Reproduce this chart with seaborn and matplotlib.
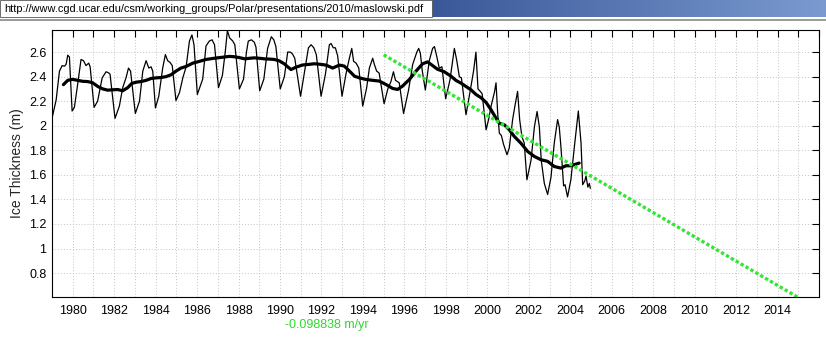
import numpy as np
import pandas as pd
import matplotlib
matplotlib.use("Agg")
import matplotlib.pyplot as plt
import seaborn as sns
from matplotlib.patches import Rectangle
from matplotlib.lines import Line2D

# ---------------- data ----------------
thin_year = [
    1979.00, 1979.20, 1979.36, 1979.49, 1979.60, 1979.68, 1979.76, 1979.84, 1979.97,
    1980.08, 1980.24, 1980.40, 1980.52, 1980.64, 1980.77, 1980.84, 1981.03,
    1981.20, 1981.42, 1981.61, 1981.74, 1981.80, 1982.04,
    1982.25, 1982.41, 1982.57, 1982.69, 1982.79, 1983.02,
    1983.22, 1983.38, 1983.54, 1983.67, 1983.78, 1983.86, 1983.99,
    1984.15, 1984.34, 1984.47, 1984.58, 1984.70, 1984.80, 1984.98,
    1985.15, 1985.31, 1985.47, 1985.63, 1985.75, 1985.85, 1986.01,
    1986.27, 1986.43, 1986.59, 1986.72, 1986.84, 1987.03,
    1987.22, 1987.36, 1987.46, 1987.57, 1987.72, 1987.82, 1988.04,
    1988.24, 1988.38, 1988.47, 1988.62, 1988.76, 1988.84, 1989.02,
    1989.22, 1989.40, 1989.58, 1989.70, 1989.80, 1990.01,
    1990.21, 1990.37, 1990.50, 1990.60, 1990.71, 1990.99,
    1991.19, 1991.37, 1991.50, 1991.63, 1991.75, 1991.98,
    1992.19, 1992.38, 1992.46, 1992.57, 1992.67, 1992.78, 1992.99,
    1993.18, 1993.31, 1993.46, 1993.55, 1993.67, 1993.80, 1993.99,
    1994.18, 1994.31, 1994.47, 1994.55, 1994.66, 1994.78, 1995.02,
    1995.20, 1995.35, 1995.47, 1995.57, 1995.75, 1995.96,
    1996.20, 1996.40, 1996.60, 1996.69, 1996.77, 1996.86, 1997.01,
    1997.20, 1997.36, 1997.45, 1997.56, 1997.68, 1997.81, 1997.99,
    1998.20, 1998.41, 1998.52, 1998.65, 1998.75, 1998.97,
    1999.16, 1999.34, 1999.45, 1999.55, 1999.66, 1999.75, 1999.94,
    2000.06, 2000.18, 2000.34, 2000.42, 2000.50, 2000.58, 2000.68, 2000.78, 2000.95,
    2001.06, 2001.22, 2001.33, 2001.46, 2001.56, 2001.67, 2001.78, 2001.91,
    2002.11, 2002.27, 2002.40, 2002.51, 2002.60, 2002.75, 2002.91,
    2003.07, 2003.23, 2003.39, 2003.47, 2003.55, 2003.68, 2003.75, 2003.87,
    2004.03, 2004.20, 2004.39, 2004.52, 2004.60, 2004.70, 2004.76, 2004.85, 2004.92, 2004.97,
]
thin_ice = [
    2.06, 2.21, 2.445, 2.49, 2.485, 2.50, 2.575, 2.56, 2.12,
    2.15, 2.34, 2.54, 2.53, 2.49, 2.51, 2.48, 2.15,
    2.20, 2.39, 2.44, 2.43, 2.42, 2.06,
    2.16, 2.31, 2.39, 2.47, 2.445, 2.10,
    2.20, 2.445, 2.53, 2.47, 2.48, 2.445, 2.145,
    2.24, 2.47, 2.58, 2.53, 2.515, 2.49, 2.205,
    2.27, 2.39, 2.48, 2.69, 2.74, 2.66, 2.255,
    2.38, 2.65, 2.69, 2.70, 2.66, 2.31,
    2.41, 2.605, 2.775, 2.715, 2.69, 2.66, 2.30,
    2.38, 2.60, 2.69, 2.70, 2.68, 2.64, 2.285,
    2.38, 2.63, 2.725, 2.70, 2.645, 2.30,
    2.40, 2.60, 2.60, 2.585, 2.55, 2.24,
    2.45, 2.635, 2.66, 2.635, 2.58, 2.24,
    2.42, 2.66, 2.67, 2.635, 2.635, 2.57, 2.24,
    2.42, 2.525, 2.63, 2.525, 2.51, 2.47, 2.16,
    2.31, 2.47, 2.55, 2.50, 2.445, 2.43, 2.18,
    2.30, 2.36, 2.44, 2.37, 2.35, 2.10,
    2.29, 2.50, 2.60, 2.63, 2.59, 2.45, 2.29,
    2.53, 2.63, 2.645, 2.565, 2.47, 2.48, 2.22,
    2.375, 2.63, 2.537, 2.40, 2.39, 2.09,
    2.27, 2.45, 2.60, 2.30, 2.28, 2.26, 1.967,
    2.05, 2.16, 2.27, 2.35, 2.10, 1.94, 1.92, 1.85, 1.764,
    1.82, 2.05, 2.16, 2.28, 2.05, 1.91, 1.86, 1.56,
    1.72, 1.99, 2.116, 1.99, 1.72, 1.53, 1.44,
    1.58, 1.86, 2.05, 1.99, 1.83, 1.51, 1.52, 1.42,
    1.56, 1.83, 2.12, 1.86, 1.52, 1.55, 1.59, 1.50, 1.53, 1.49,
]

mean_year = [
    1979.55, 1979.76, 1980.00, 1980.24, 1980.48, 1980.72, 1980.96, 1981.21, 1981.45,
    1981.69, 1981.93, 1982.17, 1982.41, 1982.65, 1982.85, 1983.06, 1983.30, 1983.54,
    1983.78, 1984.02, 1984.26, 1984.50, 1984.74, 1984.98, 1985.22, 1985.47, 1985.79,
    1986.10, 1986.43, 1986.83, 1987.07, 1987.32, 1987.56, 1987.80, 1988.04, 1988.30,
    1988.55, 1988.76, 1989.00, 1989.25, 1989.50, 1989.73, 1989.97, 1990.20, 1990.37,
    1990.53, 1990.77, 1991.09, 1991.40, 1991.65, 1991.98, 1992.22, 1992.54, 1992.86,
    1993.10, 1993.35, 1993.59, 1993.83, 1994.15, 1994.47, 1994.79, 1995.11, 1995.43,
    1995.67, 1995.91, 1996.24, 1996.56, 1996.88, 1997.12, 1997.36, 1997.60, 1997.92,
    1998.24, 1998.48, 1998.73, 1998.97, 1999.21, 1999.45, 1999.70, 1999.94, 2000.18,
    2000.42, 2000.58, 2000.82, 2001.06, 2001.30, 2001.62, 2001.95, 2002.27, 2002.59,
    2002.91, 2003.23, 2003.55, 2003.79, 2004.03, 2004.43,
]
mean_ice = [
    2.335, 2.37, 2.378, 2.37, 2.362, 2.36, 2.35, 2.32, 2.30,
    2.29, 2.293, 2.295, 2.285, 2.31, 2.345, 2.355, 2.36, 2.37,
    2.385, 2.39, 2.393, 2.40, 2.415, 2.445, 2.47, 2.483, 2.51,
    2.524, 2.54, 2.55, 2.555, 2.56, 2.565, 2.562, 2.555, 2.545,
    2.55, 2.553, 2.55, 2.545, 2.543, 2.54, 2.528, 2.505, 2.48,
    2.458, 2.477, 2.495, 2.50, 2.505, 2.50, 2.494, 2.47, 2.494,
    2.486, 2.445, 2.404, 2.39, 2.377, 2.37, 2.364, 2.336, 2.304,
    2.296, 2.323, 2.377, 2.445, 2.505, 2.52, 2.49, 2.46, 2.44,
    2.405, 2.37, 2.347, 2.32, 2.293, 2.255, 2.228, 2.19, 2.13,
    2.062, 2.02, 2.008, 1.967, 1.913, 1.858, 1.79, 1.75, 1.723,
    1.71, 1.668, 1.655, 1.674, 1.674, 1.696,
]

trend_year = [1995.0, 2015.0]
trend_ice = [2.578, 0.601]
slope_label = "-0.098838 m/yr"
y_title = "Ice Thickness (m)"
url_text = "http://www.cgd.ucar.edu/csm/working_groups/Polar/presentations/2010/maslowski.pdf"

x_ticks = list(range(1979, 2017))
x_tick_labels = [str(y) if (y % 2 == 0 and y <= 2014) else "" for y in x_ticks]
y_ticks = [0.8, 1.0, 1.2, 1.4, 1.6, 1.8, 2.0, 2.2, 2.4, 2.6]
y_tick_labels = ["0.8", "1", "1.2", "1.4", "1.6", "1.8", "2", "2.2", "2.4", "2.6"]

# ---------------- drawing ----------------
sns.set_theme(style="white")
plt.rcParams['font.family'] = ['Liberation Sans', 'DejaVu Sans']

W, H = 826, 343
fig = plt.figure(figsize=(W / 100, H / 100), dpi=100)
fig.patch.set_facecolor("white")

# browser-like header strip
hdr_h = 17
grad_ax = fig.add_axes([432 / W, 1 - hdr_h / H, (W - 432) / W, hdr_h / H])
grad = np.linspace(0, 1, 256)[None, :, None]
c0 = np.array([58, 88, 152]) / 255
c1 = np.array([122, 154, 208]) / 255
grad_ax.imshow(c0 + (c1 - c0) * grad, aspect="auto", extent=[0, 1, 0, 1])
grad_ax.set_axis_off()
fig.patches.append(Rectangle((0, 1 - hdr_h / H), 432 / W, hdr_h / H, transform=fig.transFigure,
                             facecolor="white", edgecolor="#555555", lw=0.6))
fig.text(4 / W, 1 - 8.5 / H, url_text, fontsize=7.9, va="center", ha="left",
         family=['Liberation Sans', 'DejaVu Sans'], color="black")
fig.lines.append(Line2D([0, 1], [1 - 19.5 / H, 1 - 19.5 / H], transform=fig.transFigure,
                        color="#9a9a9a", lw=1.4))

ax = fig.add_axes([52 / W, 1 - 297 / H, (819 - 52) / W, (297 - 30) / H])

sns.lineplot(x=thin_year, y=thin_ice, ax=ax, color="black", lw=0.9, sort=False, estimator=None)
sns.lineplot(x=mean_year, y=mean_ice, ax=ax, color="black", lw=2.3, sort=False, estimator=None)
sns.lineplot(x=trend_year, y=trend_ice, ax=ax, color="#33e633", lw=2.4, sort=False,
             estimator=None, linestyle=(0, (1.0, 0.7)))

ax.set_xlim(1979, 2016)
ax.set_ylim(0.605, 2.78)
ax.set_xticks(x_ticks)
ax.set_xticklabels(x_tick_labels)
ax.set_yticks(y_ticks)
ax.set_yticklabels(y_tick_labels)
ax.set_xlabel("")
ax.set_ylabel("")
ax.grid(True, color="#c4c4c4", linestyle=(0, (1, 2)), lw=0.7)
ax.tick_params(direction="in", length=5, width=0.8, top=True, right=True,
               labelsize=9, colors="black")
ax.tick_params(axis="x", pad=6)
ax.tick_params(axis="y", pad=4)
for s in ax.spines.values():
    s.set_visible(True)
    s.set_color("black")
    s.set_linewidth(0.8)

fig.text(17 / W, 1 - 163 / H, y_title, rotation=90, ha="center", va="center", fontsize=10)
fig.text(327 / W, 1 - 325 / H, slope_label, ha="center", va="center", fontsize=9,
         color="#2ed62e")

fig.savefig("out.png", dpi=100)
